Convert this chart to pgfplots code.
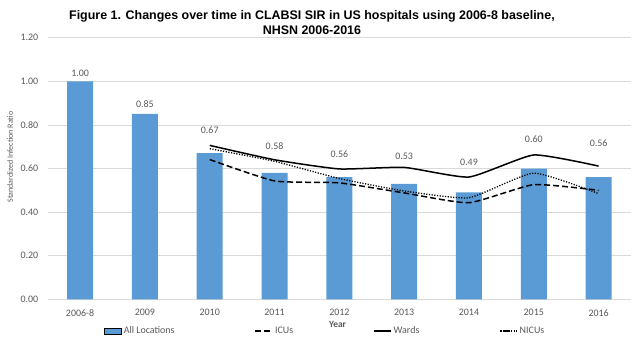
\documentclass[border=0pt]{standalone}
\usepackage{pgfplots}
\pgfplotsset{compat=1.18}
\usepackage{fontspec}
\setmainfont{Carlito}
\newfontfamily\titlefont{Liberation Sans}
\definecolor{barblue}{HTML}{5B9BD5}
\definecolor{txtgray}{HTML}{595959}
\definecolor{gridgray}{HTML}{D9D9D9}
\begin{document}
\begin{tikzpicture}[x=1bp,y=1bp]
\path[use as bounding box] (0,0) rectangle (635,344);
\begin{axis}[
  at={(47.7bp,44.7bp)}, anchor=south west,
  scale only axis, width=583.3bp, height=261.6bp,
  xmin=-0.5, xmax=8.5, ymin=0, ymax=1.2,
  xtick={0,...,8},
  xticklabels={2006-8,2009,2010,2011,2012,2013,2014,2015,2016},
  ytick={0,0.2,0.4,0.6,0.8,1.0,1.2},
  /pgf/number format/assume math mode=true,
  yticklabel style={/pgf/number format/fixed, /pgf/number format/fixed zerofill, /pgf/number format/precision=2, xshift=-6bp},
  every tick label/.append style={font=\fontsize{10}{12}\selectfont, text=txtgray},
  xticklabel style={yshift=-6.5bp},
  axis x line*=bottom, axis y line*=left,
  y axis line style={draw=none},
  x axis line style={gridgray, line width=0.75bp},
  major tick length=0pt,
  ymajorgrids, major grid style={gridgray, line width=0.75bp},
  title={Figure 1. Changes over time in CLABSI SIR in US hospitals using 2006-8 baseline,\\NHSN 2006-2016},
  title style={at={(axis description cs:0.453,1.036)}, anchor=center, align=center,
    font=\titlefont\bfseries\fontsize{12.5}{15}\selectfont},
  xlabel={Year},
  xlabel style={at={(axis description cs:0.497,-0.0944)}, anchor=center,
    font=\bfseries\fontsize{9.5}{11}\selectfont, text=txtgray},
  ylabel={Standardized Infection Ratio},
  ylabel style={at={(axis description cs:-0.0646,0.544)}, anchor=center,
    font=\fontsize{8}{10}\selectfont, text=txtgray},
  legend columns=4,
  legend style={at={(axis description cs:0.476,-0.121)}, anchor=center, draw=none, fill=none,
    font=\fontsize{10}{12}\selectfont, text=txtgray,
    /tikz/every even column/.append style={column sep=78bp}},
]
\addplot[ybar, bar width=26bp, fill=barblue, draw=none, area legend] coordinates {
 (0,1.00) (1,0.85) (2,0.67) (3,0.58) (4,0.56) (5,0.53) (6,0.49) (7,0.60) (8,0.56)};
\addlegendentry{All Locations}
\addplot[black, line width=1.5bp, smooth, tension=0.3, dash pattern=on 6bp off 3bp] coordinates {
 (2,0.641) (3,0.543) (4,0.534) (5,0.488) (6,0.443) (7,0.526) (8,0.500)};
\addlegendentry{ICUs}
\addplot[black, line width=1.5bp, smooth, tension=0.3] coordinates {
 (2,0.706) (3,0.640) (4,0.598) (5,0.605) (6,0.561) (7,0.662) (8,0.611)};
\addlegendentry{Wards}
\addplot[black, line width=1.3bp, smooth, tension=0.3, dash pattern=on 1.2bp off 1.5bp] coordinates {
 (2,0.691) (3,0.633) (4,0.554) (5,0.497) (6,0.466) (7,0.579) (8,0.485)};
\addlegendentry{NICUs}
\addplot[only marks, mark=none, forget plot, nodes near coords, point meta=explicit symbolic,
  nodes near coords style={anchor=center, font=\fontsize{10}{12}\selectfont, text=txtgray}]
  table[meta=lab] {
x y lab
0 1.038 1.00
1 0.893 0.85
2 0.775 0.67
3 0.702 0.58
4 0.665 0.56
5 0.657 0.53
6 0.628 0.49
7 0.733 0.60
8 0.714 0.56
};
\end{axis}
\end{tikzpicture}
\end{document}
